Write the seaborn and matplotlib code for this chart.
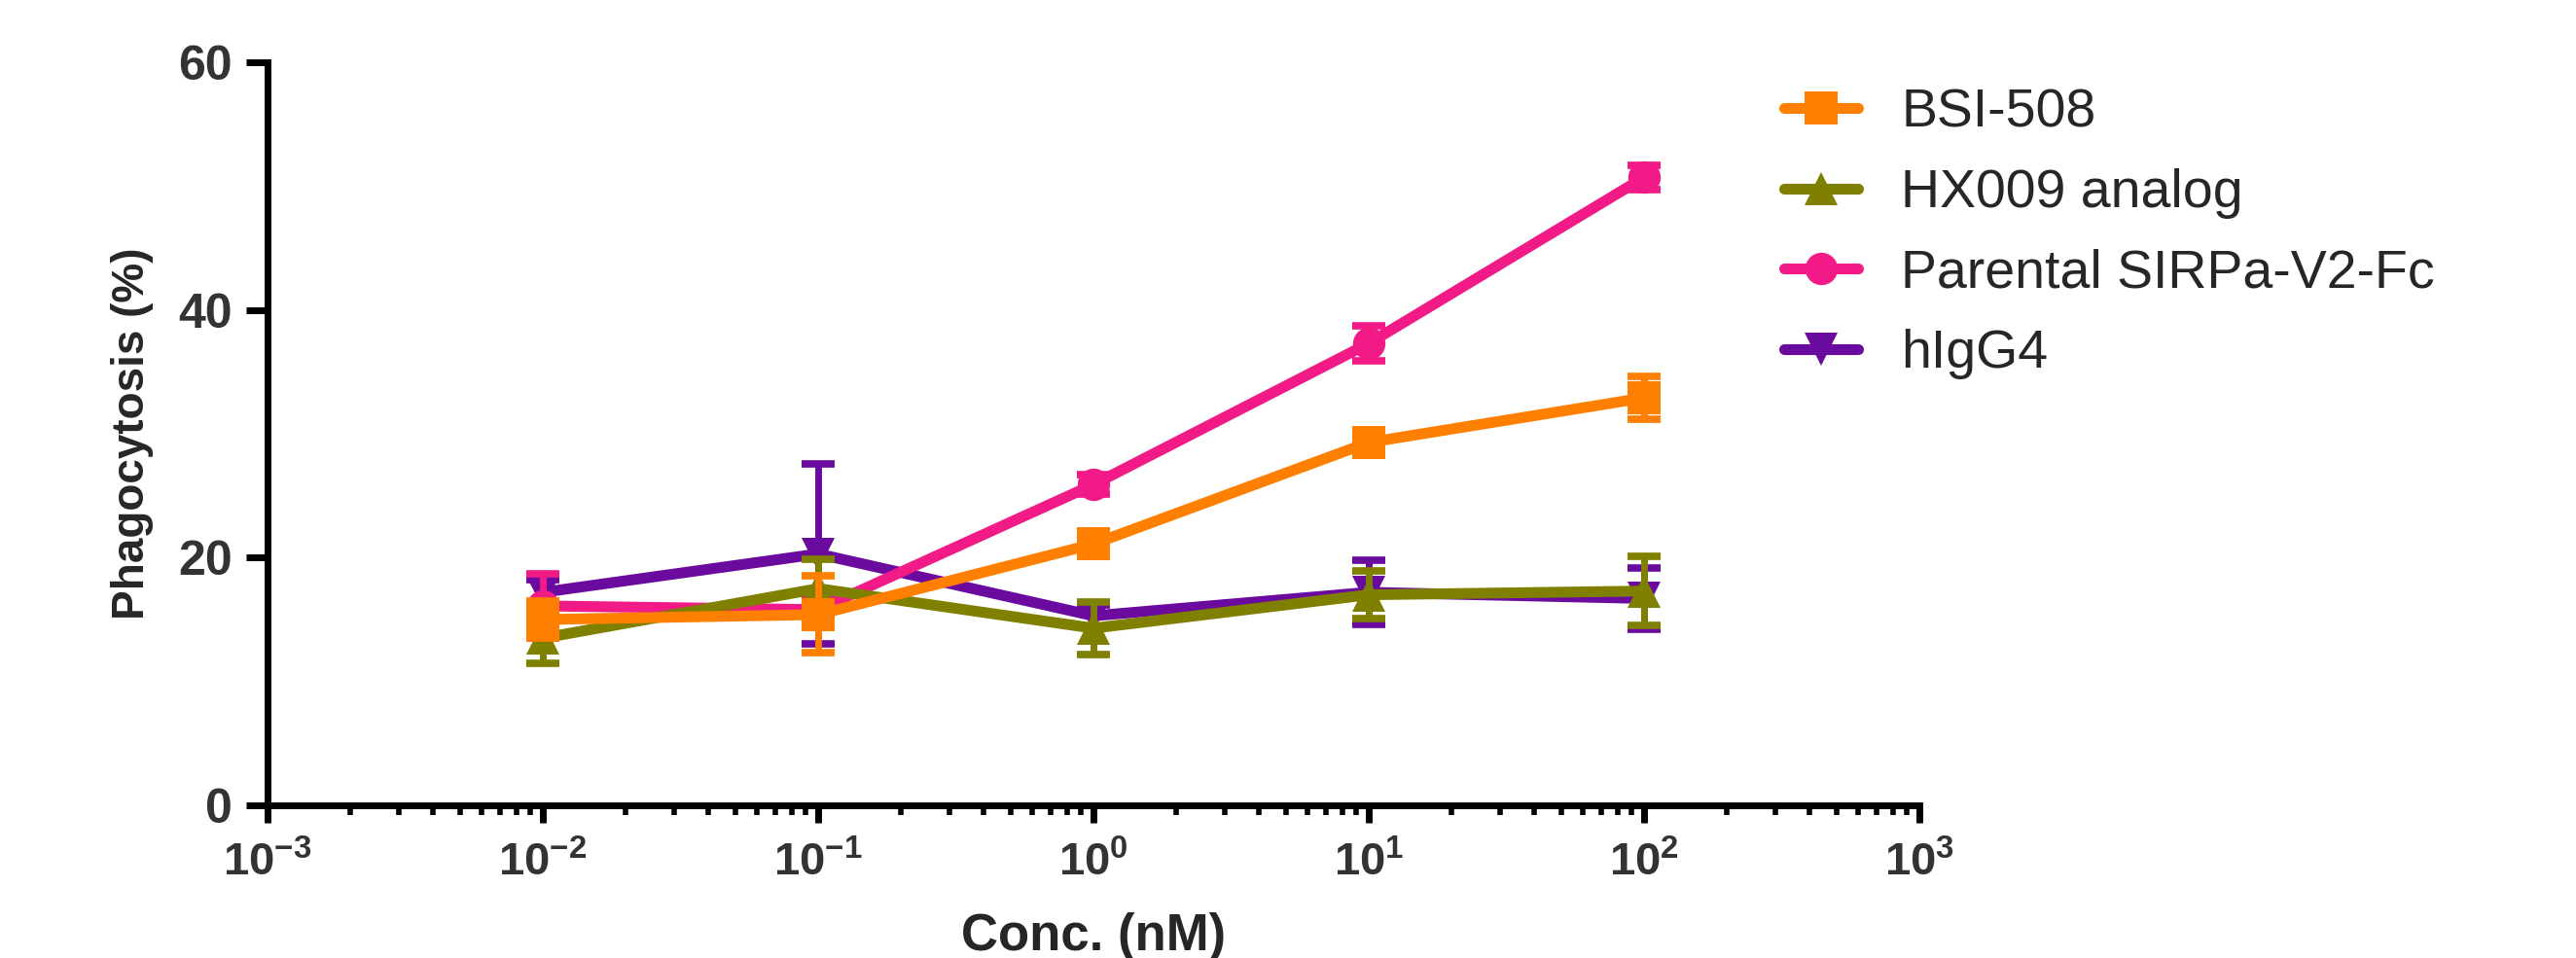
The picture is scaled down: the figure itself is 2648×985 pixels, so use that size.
import numpy as np
import pandas as pd
import matplotlib
matplotlib.use("Agg")
import matplotlib.pyplot as plt
import matplotlib.ticker as mticker
import seaborn as sns


# ==========================================================
# Data (mean +/- error)
# ==========================================================

conc = [0.01, 0.1, 1, 10, 100]

bsi_508 = [15.0, 15.4, 21.1, 29.3, 32.9]
bsi_508_err = [1.5, 3.1, 0.9, 0.6, 1.7]

hx009 = [13.5, 17.5, 14.3, 17.0, 17.3]
hx009_err = [2.0, 2.4, 2.1, 1.9, 2.8]

parental = [16.1, 15.8, 25.9, 37.3, 50.7]
parental_err = [2.6, 1.2, 0.8, 1.4, 1.0]

higg4 = [17.2, 20.3, 15.3, 17.2, 16.7]
higg4_err = [1.0, 7.3, 0.9, 2.6, 2.5]

series_names = ["BSI-508", "HX009 analog", "Parental SIRPa-V2-Fc", "hIgG4"]
series_values = [bsi_508, hx009, parental, higg4]
series_errors = [bsi_508_err, hx009_err, parental_err, higg4_err]

xtick_values = [1e-3, 1e-2, 1e-1, 1e0, 1e1, 1e2, 1e3]
xtick_labels = [r"$\mathbf{10^{-3}}$", r"$\mathbf{10^{-2}}$", r"$\mathbf{10^{-1}}$",
                r"$\mathbf{10^{0}}$", r"$\mathbf{10^{1}}$", r"$\mathbf{10^{2}}$",
                r"$\mathbf{10^{3}}$"]
ytick_values = [0, 20, 40, 60]

colors = ["#FF7F00", "#7F7F00", "#F21A86", "#6A0A9E"]
markers = ["s", "^", "o", "v"]

rows = []
for name, vals, errs in zip(series_names, series_values, series_errors):
    for c, v, e in zip(conc, vals, errs):
        rows.append({"series": name, "conc": c, "value": v, "err": e})
df = pd.DataFrame(rows)


# ==========================================================
# Style
# ==========================================================

sns.set_style("ticks")
plt.rcParams["font.family"] = ["Liberation Sans", "DejaVu Sans"]
plt.rcParams["mathtext.fontset"] = "custom"
plt.rcParams["mathtext.rm"] = "Liberation Sans"
plt.rcParams["mathtext.bf"] = "Liberation Sans:bold"


# ==========================================================
# Plot
# ==========================================================

fig = plt.figure(figsize=(26.48, 9.85), dpi=100)
ax = fig.add_axes([0.1039, 0.1594, 0.6412, 0.7756])

for i, name in enumerate(series_names):
    sub = df[df["series"] == name]
    z = 10 - i
    sns.lineplot(
        data=sub, x="conc", y="value",
        color=colors[i], marker=markers[i], markersize=24,
        markeredgewidth=0, linewidth=8, label=name,
        errorbar=None, ax=ax, zorder=z,
    )
    ax.errorbar(
        sub["conc"], sub["value"], yerr=sub["err"], fmt="none",
        ecolor=colors[i], elinewidth=5, capsize=12, capthick=5.5,
        zorder=z,
    )

ax.set_xscale("log")
ax.set_xlim(1e-3, 1e3)
ax.set_ylim(0, 60)

ax.set_xticks(xtick_values)
ax.set_xticklabels(xtick_labels)
ax.xaxis.set_minor_locator(mticker.LogLocator(base=10, subs=np.arange(2, 10), numticks=100))
ax.xaxis.set_minor_formatter(mticker.NullFormatter())
ax.set_yticks(ytick_values)

for side in ["top", "right"]:
    ax.spines[side].set_visible(False)
for side in ["left", "bottom"]:
    ax.spines[side].set_linewidth(5)
    ax.spines[side].set_color("black")

ax.tick_params(axis="x", which="major", length=13, width=5, pad=14,
               labelsize=34, labelcolor="#333333", color="black")
ax.tick_params(axis="x", which="minor", length=7, width=4, color="black")
ax.tick_params(axis="y", which="major", length=16, width=5, pad=10,
               labelsize=36, labelcolor="#333333", color="black")
for lab in ax.get_yticklabels():
    lab.set_fontweight("bold")

ax.set_xlabel("Conc. (nM)", fontsize=38, fontweight="bold", labelpad=20)
ax.set_ylabel("Phagocytosis (%)", fontsize=33, fontweight="bold", labelpad=18)

handles, labels = ax.get_legend_handles_labels()
ax.legend(
    handles[:4], labels[:4],
    loc="upper left", bbox_to_anchor=(0.6925, 0.908),
    bbox_transform=fig.transFigure, frameon=False,
    fontsize=40, handlelength=1.37, handletextpad=0.8,
    labelspacing=0.55, borderpad=0, borderaxespad=0,
)

fig.savefig("out.png", dpi=100)
